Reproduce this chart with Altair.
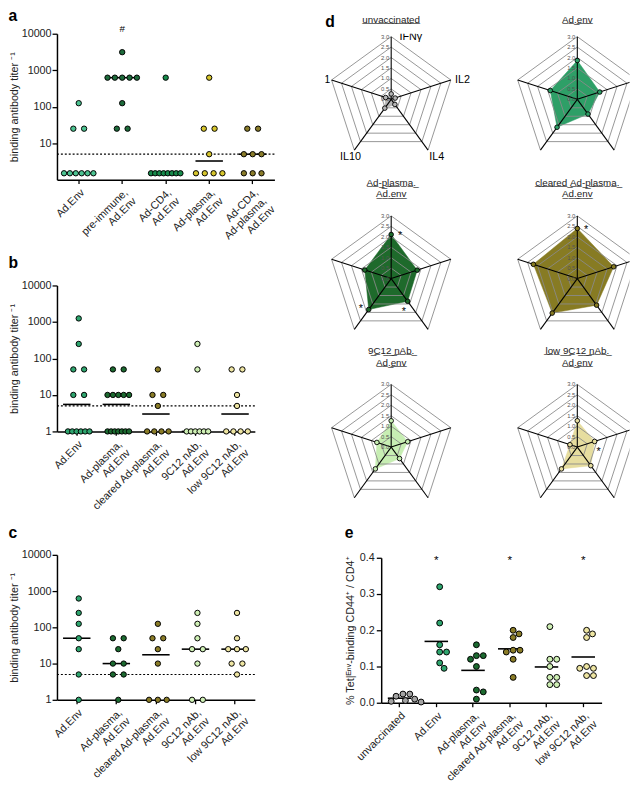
import altair as alt
import pandas as pd
import numpy as np

FONT = "Liberation Sans"

# ---------------- panel a ----------------
a_groups = ["Ad.Env", "pre-immune,\nAd.Env", "Ad-CD4,\nAd.Env", "Ad-plasma,\nAd.Env", "Ad-CD4,\nAd-plasma,\nAd.Env"]
a_colors = ["#4cc391", "#1d6b3b", "#168a4a", "#d6c52c", "#8a7c2a"]
a_ad_env = [125, 25, 25, 1.5, 1.5, 1.5, 1.5, 1.5, 1.5]
a_pre_immune = [3125, 625, 625, 625, 625, 625, 125, 25, 25]
a_cd4 = [625, 1.5, 1.5, 1.5, 1.5, 1.5, 1.5, 1.5, 1.5]
a_plasma = [625, 25, 25, 5, 1.5, 1.5, 1.5, 1.5]
a_cd4_plasma = [25, 25, 5, 5, 5, 1.5, 1.5, 1.5]
a_marks = ["", "#", "", "", ""]

# ---------------- panels b, c ----------------
bc_groups = ["Ad.Env", "Ad-plasma,\nAd.Env", "cleared Ad-plasma,\nAd.Env", "9C12 nAb,\nAd.Env", "low 9C12 nAb,\nAd.Env"]
bc_colors = ["#2ea56e", "#1c6a30", "#8a7c27", "#cff0b5", "#eee5a2"]
b_ad_env = [1250, 250, 50, 50, 10, 10, 1, 1, 1, 1, 1, 1]
b_plasma = [50, 50, 10, 10, 10, 10, 10, 1, 1, 1, 1, 1, 1, 1]
b_cleared = [50, 10, 10, 5, 1, 1, 1, 1]
b_9c12 = [250, 50, 1, 1, 1, 1, 1, 1]
b_low = [50, 50, 10, 5, 1, 1, 1, 1]
c_ad_env = [625, 250, 125, 50, 25, 5, 1]
c_plasma = [50, 50, 25, 10, 10, 5, 5, 1]
c_cleared = [125, 50, 50, 25, 10, 1, 1, 1]
c_9c12 = [250, 125, 50, 25, 25, 10, 1, 1]
c_low = [250, 50, 25, 25, 25, 10, 10, 5]
detection_limit = [5]

# ---------------- panel d ----------------
cytokines = ["IFNγ", "IL2", "IL4", "IL10", "IL21"]
ring_levels = [0.5, 1.0, 1.5, 2.0, 2.5, 3.0]
tick_levels = [0.0, 0.5, 1.0, 1.5, 2.0, 2.5, 3.0]
d_titles = [["unvaccinated"], ["Ad.env"], ["Ad-plasma.", "Ad.env"],
            ["cleared Ad-plasma.", "Ad.env"], ["9C12 nAb.", "Ad.env"], ["low 9C12 nAb.", "Ad.env"]]
d_colors = ["#b5b5b5", "#2e9f67", "#1e6a2b", "#877b23", "#c7eeb3", "#e6dd9f"]
d_unvacc = [0.26, 0.20, 0.30, 0.52, 0.28]
d_ad_env = [1.86, 1.13, 0.87, 1.65, 1.36]
d_plasma = [2.11, 1.31, 1.34, 1.83, 1.33]
d_cleared = [2.40, 1.83, 1.57, 2.04, 2.21]
d_9c12 = [1.26, 0.83, 0.68, 1.29, 0.72]
d_low = [1.26, 0.87, 1.10, 1.29, 0.37]
d_stars = [[], [], ["IFNγ", "IL4", "IL10"], ["IFNγ"], [], ["IL2"]]

# ---------------- panel e ----------------
e_groups = ["unvaccinated", "Ad.Env", "Ad-plasma,\nAd.Env", "cleared Ad-plasma,\nAd.Env", "9C12 nAb,\nAd.Env", "low 9C12 nAb,\nAd.Env"]
e_colors = ["#a3a3a3", "#2ea56e", "#1c6a30", "#8a7c27", "#cff0b5", "#eee5a2"]
e_unvacc = [0.024, 0.024, 0.018, 0.010, 0.006, 0.004, 0.002]
e_ad_env = [0.32, 0.22, 0.16, 0.14, 0.14, 0.11, 0.095]
e_plasma = [0.16, 0.13, 0.13, 0.12, 0.10, 0.035, 0.03, 0.01]
e_cleared = [0.20, 0.19, 0.18, 0.145, 0.145, 0.14, 0.12, 0.07]
e_9c12 = [0.21, 0.12, 0.12, 0.10, 0.07, 0.07, 0.05, 0.05]
e_low = [0.20, 0.19, 0.18, 0.10, 0.095, 0.095, 0.075, 0.075]
e_sig = ["", "*", "", "*", "", "*"]


# ---------------- layout helpers ----------------
def row_dodge(values, spread):
    counts = {}
    for v in values:
        counts[v] = counts.get(v, 0) + 1
    seen, out = {}, []
    for v in values:
        n = counts[v]
        k = seen.get(v, 0)
        seen[v] = k + 1
        if n == 1:
            out.append(0.0)
            continue
        s = min(11.0 if n == 2 else 9.0, spread / (n - 1))
        out.append((k - (n - 1) / 2) * s)
    return out


def swarm(values, px_per_unit, d=7.0, step=0.5):
    placed, offs = [], [0.0] * len(values)
    order = sorted(range(len(values)), key=lambda i: -values[i])
    for i in order:
        y = values[i] * px_per_unit
        k = 0
        while True:
            cands = [0.0] if k == 0 else [k * step, -k * step]
            ok = None
            for c in cands:
                if all((c - px) ** 2 + (y - py) ** 2 >= d * d for px, py in placed):
                    ok = c
                    break
            if ok is not None:
                break
            k += 1
        placed.append((ok, y))
        offs[i] = ok
    return offs


def x_enc(groups):
    return alt.X("group:N", sort=groups,
                 scale=alt.Scale(type="band", paddingInner=0, paddingOuter=0),
                 axis=alt.Axis(title=None, labelAngle=-45, labelAlign="right", labelBaseline="top",
                               labelExpr="split(datum.value, '\\n')", labelLineHeight=12,
                               labelPadding=3, tickSize=4, labelLimit=300))


def panel_title(letter, offset, dy=0):
    return alt.TitleParams(letter, anchor="start", fontSize=16, fontWeight="bold", font=FONT,
                           offset=offset, dy=dy, color="black")


def strip_panel(letter, groups, colors, series, width, height, spread, yvals, marks=None,
                toff=4, tdy=0):
    bw = width / len(groups)
    rows = []
    for g, c, vals in zip(groups, colors, series):
        for v, o in zip(vals, row_dodge(vals, spread)):
            rows.append({"group": g, "value": v, "dx": o, "col": c})
    df = pd.DataFrame(rows)
    yscale = alt.Scale(type="log", domain=[1, 10000], nice=False)
    yaxis = alt.Axis(title="binding antibody titer \u207b\u00b9", values=yvals, format="d",
                     titlePadding=2, labelPadding=1, tickSize=5)
    x = x_enc(groups)
    lod = alt.Chart(pd.DataFrame({"value": detection_limit})).mark_rule(
        color="black", strokeDash=[2, 2], strokeWidth=1.2).encode(
        y=alt.Y("value:Q", scale=yscale, axis=yaxis))
    med = alt.Chart(df).mark_tick(color="black", thickness=1.6, size=28).encode(
        x=x, y=alt.Y("median(value):Q", scale=yscale, axis=yaxis))
    pts = alt.Chart(df).mark_circle(size=30, stroke="black", strokeWidth=1, opacity=1).encode(
        x=x,
        xOffset=alt.XOffset("dx:Q", scale=alt.Scale(domain=[-bw / 2, bw / 2], range=[0, bw])),
        y=alt.Y("value:Q", scale=yscale, axis=yaxis),
        color=alt.Color("col:N", scale=None))
    layers = [lod, med, pts]
    if marks:
        mdf = pd.DataFrame({"group": groups, "mark": marks})
        layers.append(alt.Chart(mdf).mark_text(fontSize=10, font=FONT, dy=-5, baseline="middle",
                                               color="black").encode(
            x=x, y=alt.Y(datum=10000, type="quantitative", scale=yscale, axis=yaxis), text="mark:N"))
    return alt.layer(*layers).properties(width=width, height=height,
                                         title=panel_title(letter, toff, tdy))


panel_a = strip_panel("a", a_groups, a_colors,
                      [a_ad_env, a_pre_immune, a_cd4, a_plasma, a_cd4_plasma],
                      222, 149, 30, [10, 100, 1000, 10000], marks=a_marks, toff=-9, tdy=-8.5)
panel_b = strip_panel("b", bc_groups, bc_colors,
                      [b_ad_env, b_plasma, b_cleared, b_9c12, b_low],
                      202, 149, 22, [1, 10, 100, 1000, 10000], toff=9)
panel_c = strip_panel("c", bc_groups, bc_colors,
                      [c_ad_env, c_plasma, c_cleared, c_9c12, c_low],
                      202, 148, 22, [1, 10, 100, 1000, 10000], toff=8)

# ---------------- radar charts ----------------
PX = 64.0 / 3.0  # pixels per unit
YMAX = 3.14
XMIN = -3.15
ANG = "(PI/2 - 2*PI*datum.i/5)"
label_off = {0: (20, 0), 1: (12, 0), 2: (9, 7), 3: (-4, 7), 4: (-12, 0)}
star_off = {0: (9, -1), 1: (4, 8), 2: (-4, 8), 3: (-8, -3), 4: (-8, 0)}


def ul(s):
    return "".join(ch + "\u0332" for ch in s)


def radar(title_lines, vals, color, stars, xmax, ymin, show_labels, tdy=0):
    xs = alt.Scale(domain=[XMIN, xmax], nice=False, zero=False)
    ys = alt.Scale(domain=[ymin, YMAX], nice=False, zero=False)
    W = (xmax - XMIN) * PX
    H = (YMAX - ymin) * PX
    X = lambda f: alt.X(f, type="quantitative", scale=xs, axis=None)
    Y = lambda f: alt.Y(f, type="quantitative", scale=ys, axis=None)

    poly_df = pd.DataFrame({"i": list(range(5)), "cyto": cytokines, "v": vals})
    poly = alt.Chart(poly_df).transform_calculate(
        px=f"datum.v*cos{ANG}", py=f"datum.v*sin{ANG}").mark_line(
        interpolate="linear-closed", fill=color, stroke=color, strokeWidth=0.5, clip=True).encode(
        x=X("px"), y=Y("py"), order=alt.Order("i:Q"))

    ring_df = pd.DataFrame([{"level": L, "i": i} for L in ring_levels for i in range(5)
                            if not (L == 3.0 and i == 2)])
    rings = alt.Chart(ring_df).transform_calculate(
        ax=f"datum.level*cos{ANG}", ay=f"datum.level*sin{ANG}",
        bx="datum.level*cos(PI/2 - 2*PI*(datum.i+1)/5)",
        by="datum.level*sin(PI/2 - 2*PI*(datum.i+1)/5)").mark_rule(
        color="#8a8a8a", strokeWidth=0.9, clip=True).encode(
        x=X("ax"), y=Y("ay"), x2="bx:Q", y2="by:Q")

    spoke_df = pd.DataFrame({"i": list(range(5)), "level": [3.0] * 5})
    spokes = alt.Chart(spoke_df).transform_calculate(
        ox="0", oy="0", ax=f"datum.level*cos{ANG}", ay=f"datum.level*sin{ANG}").mark_rule(
        color="black", strokeWidth=1.1, clip=True).encode(
        x=X("ox"), y=Y("oy"), x2="ax:Q", y2="ay:Q")

    tick_df = pd.DataFrame({"t": tick_levels})
    ticks = alt.Chart(tick_df).transform_calculate(zx="0").mark_text(
        align="right", baseline="middle", dx=-2, fontSize=6, font=FONT, color="#555").encode(
        x=X("zx"), y=Y("t"), text=alt.Text("t:Q", format=".1f"))

    pts = alt.Chart(poly_df).transform_calculate(
        px=f"datum.v*cos{ANG}", py=f"datum.v*sin{ANG}").mark_circle(
        size=22, color=color, stroke="black", strokeWidth=0.9, opacity=1, clip=True).encode(
        x=X("px"), y=Y("py"))

    layers = [poly, rings, spokes, ticks, pts]
    if stars:
        sd = []
        for s in stars:
            i = cytokines.index(s)
            sd.append({"i": i, "v": vals[i], "ox": star_off[i][0] / PX, "oy": -star_off[i][1] / PX})
        sdf = pd.DataFrame(sd)
        layers.append(alt.Chart(sdf).transform_calculate(
            px=f"datum.v*cos{ANG} + datum.ox", py=f"datum.v*sin{ANG} + datum.oy",
            star="'*'").mark_text(fontSize=11, font=FONT, dy=3, baseline="middle", color="black").encode(
            x=X("px"), y=Y("py"), text="star:N"))
    if show_labels:
        ld = [{"i": i, "lab": c, "ox": label_off[i][0] / PX, "oy": -label_off[i][1] / PX}
              for i, c in enumerate(cytokines)]
        layers.append(alt.Chart(pd.DataFrame(ld)).transform_calculate(
            px=f"3*cos{ANG} + datum.ox", py=f"3*sin{ANG} + datum.oy").mark_text(
            fontSize=11, font=FONT, baseline="middle", align="center", clip=True, color="black").encode(
            x=X("px"), y=Y("py"), text="lab:N"))
    tdx = -((xmax + XMIN) / 2) * PX
    return alt.layer(*layers).properties(
        width=W, height=H,
        title=alt.TitleParams([ul(t) for t in title_lines], fontSize=10, font=FONT,
                              fontWeight="normal", anchor="middle", dx=tdx, dy=tdy, offset=14,
                              lineHeight=12, color="#222"))


d_vals = [d_unvacc, d_ad_env, d_plasma, d_cleared, d_9c12, d_low]
radars = []
for k in range(6):
    col = k % 2
    radars.append(radar(d_titles[k], d_vals[k], d_colors[k], d_stars[k],
                        3.85 if col == 0 else 2.5, -3.2 if k < 2 else -3.05, k == 0,
                        tdy=5 if k < 2 else 0))
row1 = alt.hconcat(radars[0], radars[1], spacing=40)
row2 = alt.hconcat(radars[2], radars[3], spacing=40)
row3 = alt.hconcat(radars[4], radars[5], spacing=40)
panel_d = alt.vconcat(row1, alt.vconcat(row2, row3, spacing=2), spacing=10,
                      title=alt.TitleParams("d", anchor="start", fontSize=16, fontWeight="bold",
                                            font=FONT, offset=-18, dy=-3, color="black"))

# ---------------- panel e ----------------
e_series = [e_unvacc, e_ad_env, e_plasma, e_cleared, e_9c12, e_low]
e_w, e_h = 225, 148
e_bw = e_w / len(e_groups)
erows = []
for g, c, vals in zip(e_groups, e_colors, e_series):
    for v, o in zip(vals, swarm(vals, e_h / 0.4)):
        erows.append({"group": g, "value": v, "dx": o, "col": c})
edf = pd.DataFrame(erows)
eys = alt.Scale(domain=[0, 0.4], nice=False)
eyax = alt.Axis(title="% Tet|\u1d31\u207f\u1d5b-binding CD44\u207a / CD4\u207a", values=[0, 0.1, 0.2, 0.3, 0.4],
                format=".1f", titlePadding=4, labelPadding=2, tickSize=5)
ex = x_enc(e_groups)
e_mean = alt.Chart(edf).mark_tick(color="black", thickness=1.6, size=24).encode(
    x=ex, y=alt.Y("mean(value):Q", scale=eys, axis=eyax))
e_pts = alt.Chart(edf).mark_circle(size=36, stroke="black", strokeWidth=1, opacity=1).encode(
    x=ex,
    xOffset=alt.XOffset("dx:Q", scale=alt.Scale(domain=[-e_bw / 2, e_bw / 2], range=[0, e_bw])),
    y=alt.Y("value:Q", scale=eys, axis=eyax),
    color=alt.Color("col:N", scale=None))
e_star = alt.Chart(pd.DataFrame({"group": e_groups, "sig": e_sig})).mark_text(
    fontSize=12, font=FONT, dy=2, baseline="middle", color="black").encode(
    x=ex, y=alt.Y(datum=0.4, type="quantitative", scale=eys, axis=eyax), text="sig:N")
panel_e = alt.layer(e_mean, e_pts, e_star).properties(
    width=e_w, height=e_h, title=panel_title("e", 11))

spacer = alt.Chart(pd.DataFrame({"v": [0]})).mark_point(opacity=0).encode(
    x=alt.X("v:Q", axis=None), y=alt.Y("v:Q", axis=None)).properties(width=19, height=10)

left = alt.vconcat(panel_a, panel_b, panel_c, spacing=5)
right = alt.vconcat(panel_d, alt.hconcat(spacer, panel_e, spacing=0), spacing=14)

chart = alt.hconcat(left, right, spacing=49).properties(
    padding={"left": 0, "top": -8, "right": 0, "bottom": 0}
).configure_view(stroke=None).configure_axis(
    domainColor="black", domainWidth=1.5, tickColor="black", tickWidth=1.3,
    labelFont=FONT, titleFont=FONT, labelFontSize=11, titleFontSize=11,
    labelColor="#222", titleColor="#222", titleFontWeight="normal", grid=False
).configure_title(font=FONT)

chart.save("out.html", embed_options={"renderer": "svg", "actions": False})
